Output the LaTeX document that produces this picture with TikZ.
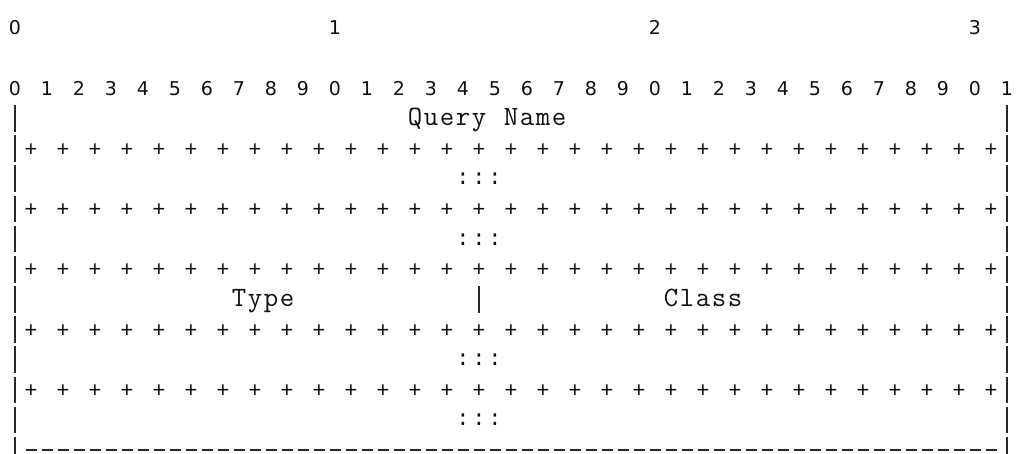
\documentclass[tikz,border=0pt]{standalone}
\usepackage{fontspec}
\newfontfamily\digfont{DejaVu Sans}
\newfontfamily\symfont{Liberation Mono}
\newfontfamily\letfont{Latin Modern Mono}
\definecolor{txtc}{RGB}{15,15,15}
\definecolor{barc}{RGB}{40,40,40}
\newcommand\digsize{\fontsize{19pt}{19pt}\selectfont}
\newcommand\symsize{\fontsize{22pt}{22pt}\selectfont}
\newcommand\letsize{\fontsize{28pt}{28pt}\selectfont}
\tikzset{
  dg/.style={inner sep=0pt, anchor=base, text=txtc, font={\digfont\digsize}},
  ch/.style={inner sep=0pt, anchor=base, text=txtc, font={\symfont\symsize}},
  lt/.style={inner sep=0pt, anchor=base, text=txtc, font={\letfont\letsize}},
  vbar/.style={draw=barc, line width=1.5pt},
  dashrow/.style={draw=barc, line width=1.5pt, dash pattern=on 11pt off 5pt}
}
\begin{document}
\begin{tikzpicture}[x=1pt,y=-1pt]
\useasboundingbox (0,0) rectangle (1016,454);
\pgfmathsetmacro{\pitch}{30.15}
% tens row
\foreach \d [count=\i from 0] in {0,1,2,3}
  \node[dg] (ten\i) at ({15+16*20*\i},{28+7}) {\d};
% units row
\foreach \k in {0,...,31}{
  \pgfmathtruncatemacro{\dd}{mod(\k,10)}
  \node[dg] (unit\k) at ({15+32*\k},{28+2*\pitch+7}) {\dd};
}
% Query Name (row 3)
\foreach \c [count=\i from 25] in {Q,u,e,r,y}
  \node[lt] (qn\i) at ({15+16*\i},{28+3*\pitch+7.5}) {\c};
\foreach \c [count=\i from 31] in {N,a,m,e}
  \node[lt] (qn\i) at ({15+16*\i},{28+3*\pitch+7.5}) {\c};
% plus rows
\foreach \r in {4,6,8,10,12}{
  \foreach \k in {1,3,...,61}
    \node[ch] (p\r-\k) at ({15+16*\k},{28+\r*\pitch+7.5}) {+};
}
% ::: rows
\foreach \r in {5,7,11,13}{
  \foreach \k in {28,29,30}
    \node[ch] (c\r-\k) at ({15+16*\k},{28+\r*\pitch+6}) {:};
}
% Type / Class (row 9)
\foreach \c [count=\i from 14] in {T,y,p,e}
  \node[lt] (ty\i) at ({15+16*\i},{28+9*\pitch+7.5}) {\c};
\foreach \c [count=\i from 41] in {C,l,a,s,s}
  \node[lt] (cl\i) at ({15+16*\i},{28+9*\pitch+7.5}) {\c};
% vertical bars
\foreach \r in {3,...,14}{
  \draw[vbar] (15,{28+\r*\pitch-13.3}) -- (15,{28+\r*\pitch+13.3});
  \draw[vbar] (1007,{28+\r*\pitch-13.3}) -- (1007,{28+\r*\pitch+13.3});
}
\draw[vbar] (479,{28+9*\pitch-13.3}) -- (479,{28+9*\pitch+13.3});
% bottom dashes
\coordinate (dl) at (25.5,{28+14*\pitch});
\coordinate (dr) at (996.5,{28+14*\pitch});
\draw[dashrow] (dl) -- (dr);
\end{tikzpicture}
\end{document}
